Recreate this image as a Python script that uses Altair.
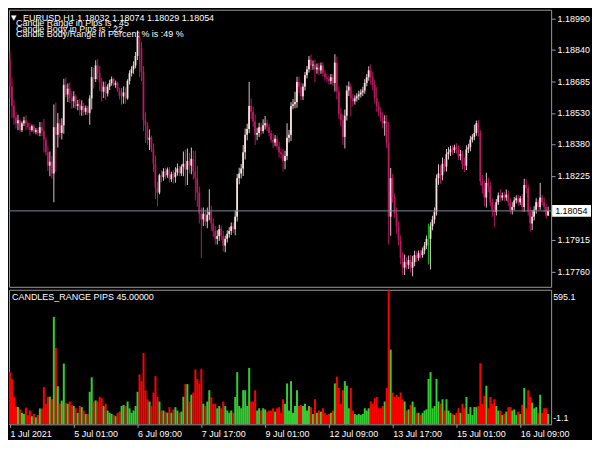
import altair as alt
import pandas as pd

# ---------------- data (prices in points, 1 point = 0.00001) ----------------
SYMBOL_LINE = "EURUSD,H1  1.18032 1.18074 1.18029 1.18054"
INFO_LINES = ["Candle Range in Pips is : 45",
              "Candle Body in Pips is : 22",
              "Candle Body/Range in Percent % is :49 %"]
IND_LABEL = "CANDLES_RANGE PIPS 45.00000"
BID = 1.18054
FIRST_OPEN = 118789

CLOSE = [
    118658, 118564, 118508, 118480, 118494, 118447, 118480, 118494, 118480, 118461,
    118447, 118466, 118438, 118447, 118433, 118461, 118442, 118400, 118339, 118274,
    118293, 118236, 118461, 118424, 118480, 118433, 118470, 118667, 118620, 118648,
    118601, 118587, 118611, 118564, 118573, 118545, 118564, 118536, 118555, 118531,
    118601, 118704, 118695, 118761, 118723, 118681, 118634, 118658, 118625, 118658,
    118676, 118695, 118667, 118676, 118639, 118611, 118611, 118630, 118601, 118686,
    118723, 118742, 118761, 118807, 118901, 118845, 118728, 118494, 118470, 118400,
    118410, 118353, 118283, 118166, 118143, 118227, 118218, 118246, 118227, 118255,
    118208, 118232, 118218, 118241, 118260, 118236, 118269, 118283, 118255, 118297,
    118274, 118307, 118246, 118213, 118143, 118040, 118012, 118040, 118002, 118035,
    118049, 117993, 117956, 117918, 117932, 117965, 117932, 117885, 117918, 117942,
    117956, 117979, 117965, 118026, 118213, 118236, 118260, 118339, 118424, 118452,
    118564, 118536, 118489, 118424, 118433, 118461, 118442, 118470, 118480, 118461,
    118433, 118400, 118386, 118405, 118367, 118339, 118330, 118297, 118321, 118410,
    118424, 118564, 118573, 118583, 118681, 118658, 118611, 118658, 118714, 118742,
    118789, 118761, 118765, 118742, 118751, 118737, 118761, 118723, 118704, 118695,
    118686, 118704, 118676, 118775, 118634, 118527, 118494, 118414, 118517, 118639,
    118658, 118601, 118587, 118601, 118611, 118620, 118630, 118639, 118676, 118704,
    118737, 118704, 118667, 118601, 118564, 118536, 118508, 118480, 118489, 118386,
    118026, 118213, 118119, 118040, 117979, 117909, 117825, 117778, 117806, 117792,
    117815, 117778, 117806, 117839, 117825, 117848, 117839, 117862, 117885, 117918,
    117918, 117979, 118012, 118049, 118213, 118236, 118227, 118283, 118269, 118330,
    118339, 118353, 118349, 118363, 118353, 118321, 118330, 118283, 118274, 118353,
    118363, 118400, 118414, 118433, 118480, 118433, 118199, 118176, 118119, 118190,
    118176, 118096, 118059, 118049, 118096, 118129, 118119, 118129, 118119, 118133,
    118096, 118059, 118073, 118105, 118115, 118096, 118115, 118073, 118180, 118166,
    118049, 117993, 118026, 118059, 118096, 118073, 118119, 118096, 118073, 118032,
    118054]

# upper / lower shadow lengths in points
WICK_UP = [
    40, 45, 30, 25, 28, 8, 8, 18, 25, 10,
    20, 8, 9, 10, 12, 25, 25, 60, 15, 30,
    50, 28, 110, 120, 50, 20, 35, 30, 35, 25,
    30, 35, 25, 10, 20, 25, 28, 14, 12, 10,
    15, 50, 45, 25, 30, 35, 20, 25, 25, 12,
    16, 12, 6, 12, 6, 12, 40, 30, 25, 8,
    15, 15, 20, 20, 30, 24, 30, 30, 40, 15,
    40, 10, 30, 40, 30, 8, 25, 15, 18, 10,
    12, 12, 20, 25, 25, 12, 10, 60, 70, 60,
    40, 55, 40, 100, 60, 30, 30, 30, 20, 35,
    110, 30, 25, 25, 28, 22, 18, 25, 15, 18,
    18, 18, 18, 30, 20, 28, 22, 35, 30, 26,
    117, 36, 26, 35, 25, 22, 20, 30, 35, 18,
    16, 13, 30, 18, 16, 22, 20, 25, 25, 70,
    23, 20, 25, 50, 25, 25, 20, 15, 15, 16,
    18, 25, 20, 25, 20, 22, 15, 16, 15, 15,
    18, 16, 16, 40, 30, 25, 28, 30, 30, 25,
    25, 15, 23, 15, 15, 18, 15, 18, 18, 16,
    20, 30, 25, 24, 55, 21, 21, 26, 30, 30,
    100, 50, 20, 20, 30, 25, 25, 28, 36, 23,
    22, 24, 30, 21, 18, 14, 15, 14, 18, 16,
    75, 20, 18, 22, 18, 45, 40, 30, 23, 25,
    25, 18, 20, 13, 20, 19, 20, 18, 30, 20,
    18, 19, 13, 40, 14, 16, 14, 30, 25, 50,
    25, 20, 20, 25, 16, 14, 30, 15, 17, 25,
    19, 19, 23, 17, 15, 18, 13, 20, 30, 28,
    15, 25, 30, 18, 19, 13, 70, 13, 23, 14,
    20]

WICK_DOWN = [
    58, 60, 35, 25, 34, 10, 9, 13, 34, 11,
    26, 8, 8, 11, 14, 16, 25, 62, 15, 26,
    52, 25, 140, 180, 62, 24, 32, 41, 13, 37,
    23, 36, 31, 13, 21, 27, 28, 18, 14, 11,
    58, 54, 46, 14, 32, 44, 48, 31, 32, 15,
    16, 14, 6, 14, 7, 15, 40, 36, 26, 7,
    18, 16, 21, 14, 19, 140, 43, 51, 86, 25,
    50, 13, 40, 55, 67, 8, 26, 17, 18, 12,
    16, 14, 31, 27, 16, 14, 12, 47, 79, 75,
    37, 42, 39, 109, 70, 47, 187, 32, 22, 32,
    26, 34, 28, 27, 28, 25, 19, 28, 32, 18,
    18, 19, 18, 29, 23, 29, 24, 36, 35, 26,
    20, 36, 27, 50, 26, 20, 21, 12, 20, 18,
    16, 14, 26, 18, 16, 25, 21, 52, 41, 21,
    23, 30, 16, 20, 27, 32, 18, 18, 19, 16,
    15, 22, 21, 62, 21, 24, 16, 16, 16, 16,
    18, 16, 16, 41, 39, 28, 29, 40, 57, 23,
    26, 88, 23, 16, 15, 18, 15, 18, 15, 16,
    17, 37, 28, 25, 28, 21, 21, 26, 61, 27,
    135, 93, 26, 21, 39, 25, 31, 35, 36, 23,
    20, 24, 42, 21, 18, 13, 16, 13, 19, 16,
    125, 149, 19, 21, 18, 32, 41, 24, 23, 24,
    26, 18, 21, 13, 20, 19, 21, 25, 31, 21,
    17, 19, 13, 16, 14, 17, 22, 37, 43, 49,
    31, 20, 33, 75, 17, 13, 20, 15, 18, 16,
    19, 19, 23, 16, 15, 18, 13, 23, 23, 28,
    18, 39, 32, 19, 19, 14, 14, 14, 24, 15,
    3]

TIME_TICKS = [0, 32, 64, 96, 128, 160, 192, 224, 256]
TIME_LABELS = ["1 Jul 2021", "5 Jul 01:00", "6 Jul 09:00", "7 Jul 17:00", "9 Jul 01:00",
               "12 Jul 09:00", "13 Jul 17:00", "15 Jul 01:00", "16 Jul 09:00"]
PRICE_TICKS = [1.18990, 1.18840, 1.18685, 1.18530, 1.18380, 1.18225, 1.17915, 1.17760]
HIST_MAX = 595.1
HIST_MIN = -1.1

# ---------------- table ----------------
rows = []
prev = FIRST_OPEN
for i, (c, wu, wd) in enumerate(zip(CLOSE, WICK_UP, WICK_DOWN)):
    o = prev
    top, bot = max(o, c), min(o, c)
    hi, lo = top + wu, bot - wd
    kind = "bull" if c > o else ("bear" if c < o else "doji")
    rows.append({"i": i, "top": top / 1e5, "bot": bot / 1e5,
                 "h": hi / 1e5, "l": lo / 1e5, "kind": kind,
                 "rng": hi - lo, "dir": "up" if c >= o else "down"})
    prev = c
df = pd.DataFrame(rows)

# ---------------- styling ----------------
FONT = "Liberation Sans"
FRAME = "#9a9a9a"
W, H1, H2 = 544, 278, 135
xs = alt.Scale(domain=[-0.5, 271.5], nice=False, zero=False)
ys = alt.Scale(domain=[1.17685, 1.19032], nice=False, zero=False)
hs = alt.Scale(domain=[HIST_MIN, HIST_MAX], nice=False, zero=False)

y_axis = alt.Axis(orient="right", values=PRICE_TICKS, format=".5f", title=None,
                  grid=False, domain=False, tickColor=FRAME, tickSize=4,
                  labelColor="#ffffff", labelFont=FONT, labelFontSize=9,
                  labelPadding=2, labelOverlap=False)

wick_col = alt.Scale(domain=["bull", "bear", "doji"], range=["#d9c3c7", "#b3195c", "#00c000"])
body_col = alt.Scale(domain=["bull", "bear", "doji"], range=["#f7dfdf", "#b81a5e", "#00c000"])

base = alt.Chart(df)
wicks = base.mark_rect().transform_calculate(
    x0="datum.i - 0.25", x1="datum.i + 0.25"
).encode(
    x=alt.X("x0:Q", scale=xs, axis=None), x2="x1:Q",
    y=alt.Y("l:Q", scale=ys, axis=y_axis), y2="h:Q",
    color=alt.Color("kind:N", scale=wick_col, legend=None),
)
bodies = base.mark_rect().transform_calculate(
    x0="datum.i - 0.5", x1="datum.i + 0.4"
).encode(
    x=alt.X("x0:Q", scale=xs, axis=None), x2="x1:Q",
    y=alt.Y("bot:Q", scale=ys, axis=y_axis), y2="top:Q",
    color=alt.Color("kind:N", scale=body_col, legend=None),
)

bid_df = pd.DataFrame({"p": [BID], "t": [f"{BID:.5f}"]})
bid_line = alt.Chart(bid_df).mark_rule(color="#778899", strokeWidth=1).encode(
    y=alt.Y("p:Q", scale=ys, axis=y_axis))
bid_box = alt.Chart(bid_df).mark_rect(color="#ffffff", yOffset=-6, y2Offset=6).encode(
    x=alt.value(W + 1), x2=alt.value(W + 40),
    y=alt.Y("p:Q", scale=ys, axis=y_axis), y2="p:Q")
bid_txt = alt.Chart(bid_df).mark_text(align="left", baseline="middle", font=FONT,
                                      fontSize=9, color="#000000").encode(
    x=alt.value(W + 4), y=alt.Y("p:Q", scale=ys, axis=y_axis), text="t:N")


def label(txt, x, y, size=9, color="#ffffff", align="left", baseline="alphabetic"):
    return alt.Chart(pd.DataFrame({"t": [txt]})).mark_text(
        align=align, baseline=baseline, font=FONT, fontSize=size, color=color
    ).encode(x=alt.value(x), y=alt.value(y), text="t:N")


tri = alt.Chart(pd.DataFrame({"t": ["\u25bc"]})).mark_text(
    align="left", baseline="alphabetic", font="DejaVu Sans", fontSize=7, color="#ffffff"
).encode(x=alt.value(2), y=alt.value(10), text="t:N")

main = alt.layer(
    wicks, bodies, bid_line, bid_box, bid_txt, tri,
    label(SYMBOL_LINE, 14, 11),
    label(INFO_LINES[0], 7, 16.5),
    label(INFO_LINES[1], 7, 22),
    label(INFO_LINES[2], 7, 27.5),
).resolve_scale(color="independent").properties(width=W, height=H1)

label_expr = "[" + ",".join(f"'{s}'" for s in TIME_LABELS) + "][round(datum.value / 32)]"
x_axis = alt.Axis(values=TIME_TICKS, labelExpr=label_expr, title=None, grid=False,
                  domain=False, tickColor=FRAME, tickSize=3, labelAlign="left",
                  labelColor="#ffffff", labelFont=FONT, labelFontSize=9, labelPadding=2,
                  labelOverlap=False, labelFlush=False)

hist = base.mark_rect().transform_calculate(
    x0="datum.i - 0.5", x1="datum.i + 0.5"
).encode(
    x=alt.X("x0:Q", scale=xs, axis=x_axis), x2="x1:Q",
    y=alt.Y("rng:Q", scale=hs, axis=None), y2=alt.datum(0),
    color=alt.Color("dir:N", scale=alt.Scale(domain=["up", "down"],
                                             range=["#32cd32", "#ff0000"]), legend=None),
)

lower = alt.layer(
    hist,
    label(IND_LABEL, 3, 10.5),
    label(f"{HIST_MAX:.1f}", W + 2, 3, baseline="top"),
    label(f"{HIST_MIN:.1f}", W + 2, H2 - 1, baseline="bottom"),
).properties(width=W, height=H2)

chart = alt.vconcat(main, lower, spacing=1, background="#000000",
                    padding={"left": 0, "top": 0, "right": 0, "bottom": 0}).configure_view(
    stroke=FRAME, strokeWidth=1, fill="#000000"
)

chart.save("out.html", embed_options={"renderer": "svg", "actions": False})
